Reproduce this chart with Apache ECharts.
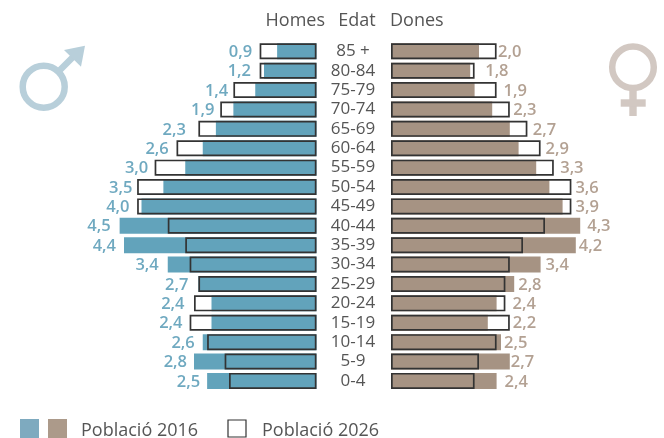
<!DOCTYPE html>
<html>
<head>
<meta charset="utf-8">
<style>
html, body { margin: 0; padding: 0; background: #fff; }
#chart { width: 664px; height: 438px; }
</style>
<script src="https://cdn.jsdelivr.net/npm/echarts@6/dist/echarts.min.js"></script>
</head>
<body>
<div id="chart"></div>
<script>
const ages = ['85 +', '80-84', '75-79', '70-74', '65-69', '60-64', '55-59', '50-54', '45-49', '40-44', '35-39', '30-34', '25-29', '20-24', '15-19', '10-14', '5-9', '0-4']
const homes2016 = [0.9, 1.2, 1.4, 1.9, 2.3, 2.6, 3.0, 3.5, 4.0, 4.5, 4.4, 3.4, 2.7, 2.4, 2.4, 2.6, 2.8, 2.5]
const homes2026 = [1.3, 1.3, 1.9, 2.2, 2.7, 3.2, 3.7, 4.1, 4.1, 3.4, 3.0, 2.9, 2.7, 2.8, 2.9, 2.5, 2.1, 2.0]
const dones2016 = [2.0, 1.8, 1.9, 2.3, 2.7, 2.9, 3.3, 3.6, 3.9, 4.3, 4.2, 3.4, 2.8, 2.4, 2.2, 2.5, 2.7, 2.4]
const dones2026 = [2.4, 1.9, 2.4, 2.7, 3.1, 3.4, 3.7, 4.1, 4.1, 3.5, 3.0, 2.7, 2.6, 2.6, 2.7, 2.4, 2.0, 1.9]

// the labels were placed by hand in the original, so each one has its own gap from the bar
const homesGap = [25, 13, 27, 19, 30, 34, 37, 31, 12, 9, 8, 9, 10, 27, 29, 8, 7, 7]
const donesGap = [19, 15, 29, 21, 23, 27, 24, 26, 13, 7, 3, 5, 4, 16, 25, 3, 1, 8]

const FONT = '"Open Sans", sans-serif'
const TEXT = '#555'
const BLUE = '#62a3bb'
const BROWN = '#a69383'
const OUTLINE = '#333'
const BAR = 16

function fmt(v) {
    return v.toFixed(1).replace('.', ',')
}

function series2016(values, gaps, color, labelColor, index, side) {
    return {
        type: 'bar',
        xAxisIndex: index,
        yAxisIndex: index,
        barWidth: BAR,
        barGap: '-100%',
        itemStyle: { color: color },
        data: values.map((v, i) => ({
            value: v,
            label: {
                show: true,
                position: side,
                distance: 0,
                offset: [side === 'left' ? -gaps[i] : gaps[i], 1],
                formatter: fmt(v),
                color: labelColor,
                fontFamily: FONT,
                fontWeight: 600,
                fontSize: 16.5
            }
        }))
    }
}

function series2026(values, index) {
    return {
        type: 'bar',
        xAxisIndex: index,
        yAxisIndex: index,
        barWidth: BAR,
        barGap: '-100%',
        z: 3,
        itemStyle: { color: 'transparent', borderColor: OUTLINE, borderWidth: 1.7 },
        data: values
    }
}

function text(x, y, str, align, size) {
    return {
        type: 'text',
        x: x,
        y: y,
        style: { text: str, fill: TEXT, font: size + 'px ' + FONT, align: align, verticalAlign: 'middle' }
    }
}

function rect(x, y, w, h, style) {
    return { type: 'rect', shape: { x: x, y: y, width: w, height: h }, style: style }
}

const ICON_M = '#b8cfda'
const ICON_F = '#d2c8c2'

const chart = echarts.init(document.getElementById('chart'), null, { width: 664, height: 438 })
chart.setOption({
    animation: false,
    backgroundColor: '#fff',
    grid: [
        { left: 97.75, top: 41.6, width: 218.75, height: 349 },
        { left: 391, top: 41.6, width: 220, height: 349 }
    ],
    xAxis: [
        { type: 'value', gridIndex: 0, min: 0, max: 5, inverse: true, show: false },
        { type: 'value', gridIndex: 1, min: 0, max: 5, show: false }
    ],
    yAxis: [
        { type: 'category', gridIndex: 0, data: ages, inverse: true, show: false },
        {
            type: 'category',
            gridIndex: 1,
            data: ages,
            inverse: true,
            axisLine: { show: false },
            axisTick: { show: false },
            axisLabel: { color: TEXT, fontFamily: FONT, fontSize: 17, align: 'center', margin: 38, interval: 0, padding: [2, 0, 0, 0] }
        }
    ],
    series: [
        series2016(homes2016, homesGap, BLUE, '#6fa9c0', 0, 'left'),
        series2026(homes2026, 0),
        series2016(dones2016, donesGap, BROWN, '#b3a193', 1, 'right'),
        series2026(dones2026, 1)
    ],
    graphic: [
        text(325, 21, 'Homes', 'right', 18),
        text(357, 21, 'Edat', 'center', 18),
        text(390, 21, 'Dones', 'left', 18),

        // simbol home
        { type: 'circle', shape: { cx: 43.7, cy: 86.7, r: 21 }, style: { fill: 'none', stroke: ICON_M, lineWidth: 6.5 } },
        { type: 'line', shape: { x1: 60, y1: 70, x2: 73, y2: 57 }, style: { stroke: ICON_M, lineWidth: 6.5 } },
        { type: 'polygon', shape: { points: [[85, 45.7], [64, 50], [81, 66.7]] }, style: { fill: ICON_M } },

        // simbol dona
        { type: 'circle', shape: { cx: 633, cy: 67.3, r: 20.8 }, style: { fill: 'none', stroke: ICON_F, lineWidth: 6.5 } },
        rect(629.3, 90, 7.4, 26, { fill: ICON_F }),
        rect(620.7, 99.3, 25, 7.4, { fill: ICON_F }),

        // llegenda
        rect(20, 419, 19, 19, { fill: '#7eaabf' }),
        rect(48, 419, 19, 19, { fill: '#ac9a8a' }),
        text(81, 431, 'Població 2016', 'left', 18),
        rect(228, 420, 18, 17, { fill: '#fff', stroke: OUTLINE, lineWidth: 1.2 }),
        text(262, 431, 'Població 2026', 'left', 18)
    ]
})
</script>
</body>
</html>
